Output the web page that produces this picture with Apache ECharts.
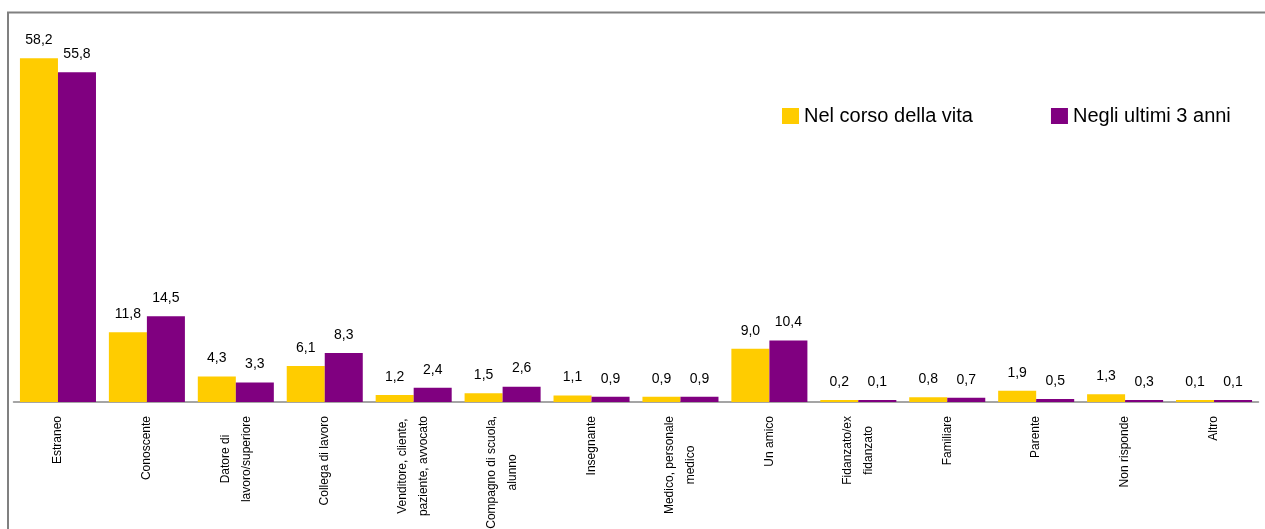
<!DOCTYPE html>
<html>
<head>
<meta charset="utf-8">
<script src="https://cdn.jsdelivr.net/npm/echarts@6/dist/echarts.min.js"></script>
<style>
html,body{margin:0;padding:0;background:#fff;}
#chart{width:1265px;height:529px;}
</style>
</head>
<body>
<div id="chart"></div>
<script>
const categories = [
  "Estraneo",
  "Conoscente",
  "Datore di\nlavoro/superiore",
  "Collega di lavoro",
  "Venditore, cliente,\npaziente, avvocato",
  "Compagno di scuola,\nalunno",
  "Insegnante",
  "Medico, personale\nmedico",
  "Un amico",
  "Fidanzato/ex\nfidanzato",
  "Familiare",
  "Parente",
  "Non risponde",
  "Altro"
];
const seriesNames = ["Nel corso della vita", "Negli ultimi 3 anni"];
const nelCorsoDellaVita = [58.2, 11.8, 4.3, 6.1, 1.2, 1.5, 1.1, 0.9, 9.0, 0.2, 0.8, 1.9, 1.3, 0.1];
const negliUltimi3Anni = [55.8, 14.5, 3.3, 8.3, 2.4, 2.6, 0.9, 0.9, 10.4, 0.1, 0.7, 0.5, 0.3, 0.1];

const SANS = "'Liberation Sans', Arial, sans-serif";

const fmt = p => p.value.toFixed(1).replace('.', ',');

const chart = echarts.init(document.getElementById('chart'), null, {renderer: 'canvas'});
const labelStyle = {
  show: true,
  position: 'top',
  distance: 11,
  formatter: fmt,
  fontFamily: SANS,
  fontSize: 14,
  color: '#000'
};
chart.setOption({
  animation: false,
  backgroundColor: '#fff',
  graphic: [{
    type: 'rect',
    shape: {x: 8, y: 12.5, width: 1400, height: 700},
    style: {fill: 'none', stroke: '#808080', lineWidth: 2},
    silent: true,
    z: 100
  }],
  legend: {
    left: 782,
    top: 106,
    padding: 0,
    itemWidth: 17,
    itemHeight: 16,
    itemGap: 78,
    icon: 'rect',
    textStyle: {fontFamily: SANS, fontSize: 20, color: '#000'},
    data: seriesNames
  },
  grid: {left: 13.5, right: 6.5, top: 47.5, bottom: 127, containLabel: false, outerBoundsMode: 'none'},
  xAxis: {
    type: 'category',
    data: categories,
    axisLine: {lineStyle: {color: '#888', width: 1.5}},
    axisTick: {show: false},
    axisLabel: {
      interval: 0,
      rotate: 90,
      margin: 14,
      fontFamily: SANS,
      fontSize: 12,
      lineHeight: 21,
      color: '#000',
      formatter: v => v.split('\n').map(s => '{c|' + s + '}').join('\n'),
      rich: {
        c: {align: 'center', fontFamily: SANS, fontSize: 12, lineHeight: 21, color: '#000'}
      }
    }
  },
  yAxis: {
    type: 'value',
    min: 0,
    max: 60,
    show: false,
    splitLine: {show: false}
  },
  series: [
    {
      name: seriesNames[0],
      type: 'bar',
      data: nelCorsoDellaVita,
      barGap: '0%',
      barCategoryGap: '14.5%',
      barMinHeight: 2,
      itemStyle: {color: '#FFCC00'},
      label: labelStyle
    },
    {
      name: seriesNames[1],
      type: 'bar',
      data: negliUltimi3Anni,
      barGap: '0%',
      barCategoryGap: '14.5%',
      barMinHeight: 2,
      itemStyle: {color: '#800080'},
      label: labelStyle
    }
  ]
});
</script>
</body>
</html>
